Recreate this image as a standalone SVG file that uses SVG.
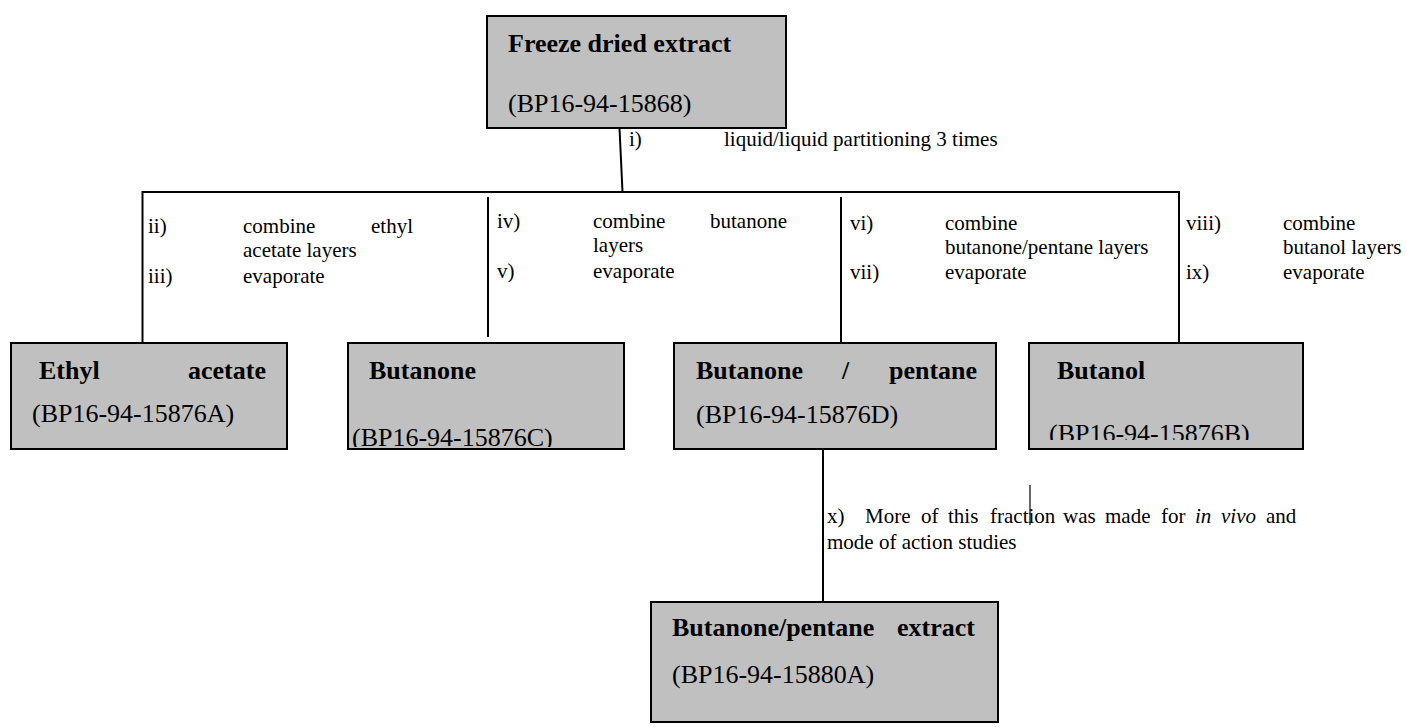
<svg xmlns="http://www.w3.org/2000/svg" width="1406" height="727" viewBox="0 0 1406 727">
  <style>
    .box { fill: #c0c0c0; stroke: #000; stroke-width: 2; }
    .bt { font-family: "Liberation Serif", "Times New Roman", serif; font-size: 26px; font-weight: bold; fill: #000; }
    .rt { font-family: "Liberation Serif", "Times New Roman", serif; font-size: 26px; fill: #000; }
    .lb { font-family: "Liberation Serif", "Times New Roman", serif; font-size: 21px; fill: #000; }
    .ln { stroke: #000; stroke-width: 2; fill: none; }
  </style>
  <defs>
    <clipPath id="clipC"><rect x="349" y="344" width="274" height="103"/></clipPath>
    <clipPath id="clipB"><rect x="1030" y="344" width="272" height="96"/></clipPath>
  </defs>
  <rect width="1406" height="727" fill="#fff"/>

  <g id="connectors">
    <line class="ln" x1="619.5" y1="128" x2="622.5" y2="192"/>
    <line class="ln" x1="142.5" y1="192" x2="1179" y2="192"/>
    <line class="ln" x1="142.5" y1="191" x2="142.5" y2="343"/>
    <line class="ln" x1="488" y1="197" x2="488" y2="337"/>
    <line class="ln" x1="841" y1="197" x2="841" y2="343"/>
    <line class="ln" x1="1179" y1="191" x2="1179" y2="343"/>
    <line class="ln" x1="823" y1="449" x2="823" y2="602"/>
    <line x1="1030" y1="485" x2="1030" y2="525" stroke="#333" stroke-width="1.5"/>
  </g>

  <g id="labels">
    <g id="label-i">
      <text class="lb" x="629" y="146">i)</text>
      <text class="lb" x="724" y="146">liquid/liquid partitioning 3 times</text>
    </g>
    <g id="label-ii-iii">
      <text class="lb" x="148" y="233">ii)</text>
      <text class="lb" x="243" y="233">combine</text>
      <text class="lb" x="371" y="233">ethyl</text>
      <text class="lb" x="243" y="257">acetate layers</text>
      <text class="lb" x="148" y="283">iii)</text>
      <text class="lb" x="243" y="283">evaporate</text>
    </g>
    <g id="label-iv-v">
      <text class="lb" x="497" y="228">iv)</text>
      <text class="lb" x="593" y="228">combine</text>
      <text class="lb" x="710" y="228">butanone</text>
      <text class="lb" x="593" y="252">layers</text>
      <text class="lb" x="497" y="278">v)</text>
      <text class="lb" x="593" y="278">evaporate</text>
    </g>
    <g id="label-vi-vii">
      <text class="lb" x="850" y="230">vi)</text>
      <text class="lb" x="945" y="230">combine</text>
      <text class="lb" x="945" y="254">butanone/pentane layers</text>
      <text class="lb" x="850" y="279">vii)</text>
      <text class="lb" x="945" y="279">evaporate</text>
    </g>
    <g id="label-viii-ix">
      <text class="lb" x="1186" y="230">viii)</text>
      <text class="lb" x="1283" y="230">combine</text>
      <text class="lb" x="1283" y="254">butanol layers</text>
      <text class="lb" x="1186" y="279">ix)</text>
      <text class="lb" x="1283" y="279">evaporate</text>
    </g>
    <g id="label-x">
      <text class="lb" y="523"><tspan x="827">x)</tspan><tspan x="865">More</tspan><tspan x="921">of</tspan><tspan x="948">this</tspan><tspan x="990">fraction</tspan><tspan x="1063">was</tspan><tspan x="1105">made</tspan><tspan x="1161">for</tspan><tspan x="1195" font-style="italic">in</tspan><tspan x="1221" font-style="italic">vivo</tspan><tspan x="1266">and</tspan></text>
      <text class="lb" x="827" y="549">mode of action studies</text>
    </g>
  </g>

  <g id="node-freeze-dried">
    <rect class="box" x="487" y="16" width="299" height="112"/>
    <text class="bt" x="508" y="52">Freeze dried extract</text>
    <text class="rt" x="508" y="112">(BP16-94-15868)</text>
  </g>

  <g id="node-ethyl-acetate">
    <rect class="box" x="11" y="343" width="276" height="106"/>
    <text class="bt" x="39" y="379">Ethyl</text>
    <text class="bt" x="188" y="379">acetate</text>
    <text class="rt" x="32" y="422">(BP16-94-15876A)</text>
  </g>

  <g id="node-butanone">
    <rect class="box" x="348" y="343" width="276" height="106"/>
    <text class="bt" x="369" y="379">Butanone</text>
    <text class="rt" x="352" y="446" clip-path="url(#clipC)">(BP16-94-15876C)</text>
  </g>

  <g id="node-butanone-pentane">
    <rect class="box" x="674" y="343" width="322" height="106"/>
    <text class="bt" x="696" y="379">Butanone</text>
    <text class="bt" x="842" y="379">/</text>
    <text class="bt" x="889" y="379">pentane</text>
    <text class="rt" x="696" y="423">(BP16-94-15876D)</text>
  </g>

  <g id="node-butanol">
    <rect class="box" x="1029" y="343" width="274" height="106"/>
    <text class="bt" x="1057" y="379">Butanol</text>
    <text class="rt" x="1049" y="442" clip-path="url(#clipB)">(BP16-94-15876B)</text>
  </g>

  <g id="node-butanone-pentane-extract">
    <rect class="box" x="651" y="602" width="347" height="120"/>
    <text class="bt" x="672" y="636">Butanone/pentane</text>
    <text class="bt" x="897" y="636">extract</text>
    <text class="rt" x="672" y="683">(BP16-94-15880A)</text>
  </g>
</svg>
